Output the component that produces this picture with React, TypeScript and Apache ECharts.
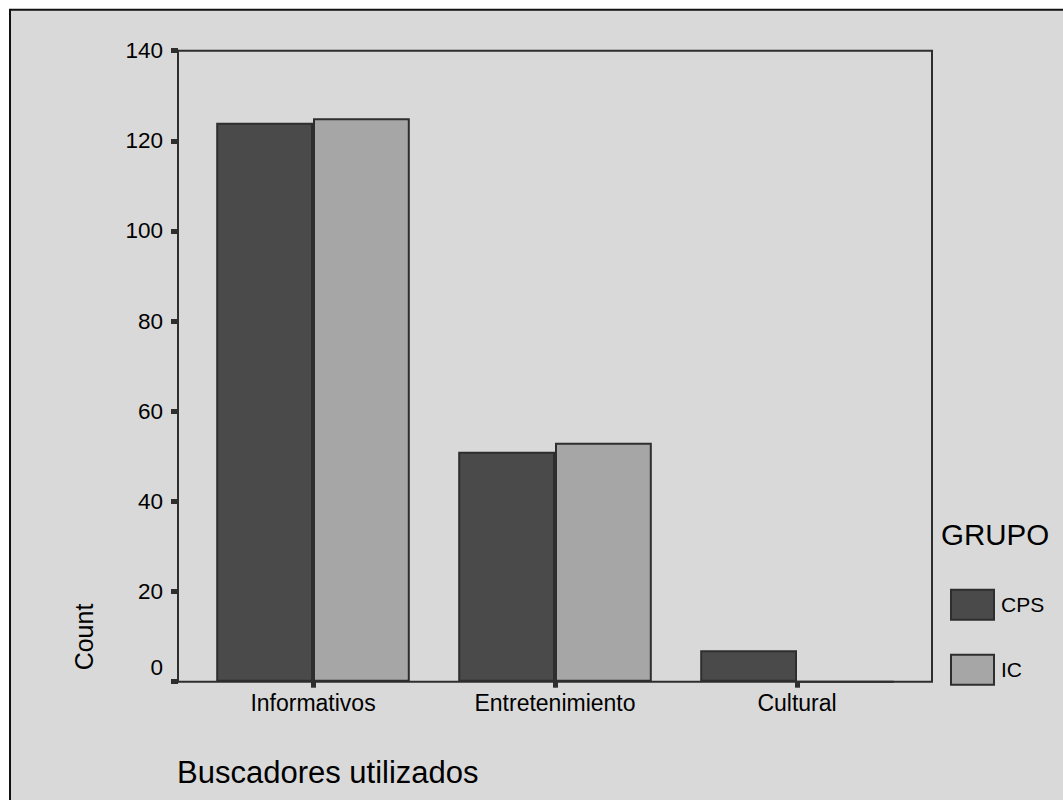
import React, { useEffect, useRef } from "react";
import * as echarts from "echarts";

const categories = ["Informativos", "Entretenimiento", "Cultural"];
const groupNames = ["CPS", "IC"];
const cpsValues = [124, 51, 7];
const icValues = [125, 53, 0];
const yMin = 0;
const yMax = 140;
const yInterval = 20;
const xTitle = "Buscadores utilizados";
const yTitle = "Count";
const legendTitle = "GRUPO";

const FONT = "'Liberation Sans', Arial, Helvetica, sans-serif";
const BG = "#d9d9d9";
const LINE = "#2e2e2e";
const CPS_COLOR = "#4a4a4a";
const IC_COLOR = "#a6a6a6";

export default function App() {
  const ref = useRef<HTMLDivElement>(null);

  useEffect(() => {
    if (!ref.current) return;
    const chart = echarts.init(ref.current, undefined, { renderer: "svg" });
    const plotTop = 50.7;
    const plotHeight = 631;
    chart.setOption({
      animation: false,
      backgroundColor: "#ffffff",
      textStyle: { fontFamily: FONT },
      graphic: [
        {
          type: "rect",
          z: -100,
          silent: true,
          shape: { x: 10, y: 9.7, width: 1070, height: 810 },
          style: { fill: BG, stroke: "#111", lineWidth: 2 },
        },
        {
          type: "text",
          x: 84,
          y: 637,
          rotation: Math.PI / 2,
          style: {
            text: yTitle,
            fontSize: 25,
            fontFamily: FONT,
            fill: "#000",
            align: "center",
            verticalAlign: "middle",
          },
        },
      ],
      title: [
        {
          text: xTitle,
          left: 177,
          top: 757,
          padding: 0,
          textStyle: { fontSize: 31, fontWeight: "normal", color: "#000", fontFamily: FONT },
        },
        {
          text: legendTitle,
          left: 941,
          top: 519,
          padding: 0,
          textStyle: { fontSize: 29.5, fontWeight: "normal", color: "#000", fontFamily: FONT },
        },
      ],
      legend: {
        data: groupNames,
        orient: "vertical",
        left: 950,
        top: 588.7,
        padding: 0,
        itemWidth: 43,
        itemHeight: 30,
        itemGap: 33,
        icon: "rect",
        textStyle: { fontSize: 21, color: "#000", fontFamily: FONT, padding: [0, 0, 0, 2] },
      },
      grid: [
        {
          left: 178,
          top: plotTop,
          width: 754,
          height: plotHeight,
          show: true,
          backgroundColor: "transparent",
          borderColor: LINE,
          borderWidth: 2,
        },
        {
          left: 192,
          top: plotTop,
          width: 726,
          height: plotHeight,
        },
      ],
      xAxis: [
        { type: "value", gridIndex: 0, show: false, min: 0, max: 1 },
        {
          type: "category",
          gridIndex: 1,
          data: categories,
          axisLine: { show: false },
          axisTick: {
            show: true,
            alignWithLabel: true,
            length: 6,
            lineStyle: { color: LINE, width: 5 },
          },
          axisLabel: { fontSize: 23, color: "#000", margin: 10, fontFamily: FONT },
          splitLine: { show: false },
        },
      ],
      yAxis: [
        {
          type: "value",
          gridIndex: 0,
          min: yMin,
          max: yMax,
          interval: yInterval,
          axisLine: { show: true, lineStyle: { color: LINE, width: 2 } },
          axisTick: { show: true, length: 7, lineStyle: { color: LINE, width: 5 } },
          splitLine: { show: false },
          axisLabel: {
            fontSize: 22.5,
            color: "#000",
            margin: 15,
            fontFamily: FONT,
            formatter: (v: number) => (v === 0 ? "{z|0}" : String(v)),
            rich: { z: { fontSize: 22.5, color: "#000", fontFamily: FONT, padding: [0, 0, 28, 0] } },
          },
        },
        { type: "value", gridIndex: 1, min: yMin, max: yMax, interval: yInterval, show: false },
      ],
      series: [
        {
          name: groupNames[0],
          type: "bar",
          xAxisIndex: 1,
          yAxisIndex: 1,
          data: cpsValues,
          barGap: "0%",
          barCategoryGap: "20%",
          itemStyle: { color: CPS_COLOR, borderColor: LINE, borderWidth: 2 },
        },
        {
          name: groupNames[1],
          type: "bar",
          xAxisIndex: 1,
          yAxisIndex: 1,
          data: icValues,
          barGap: "0%",
          barCategoryGap: "20%",
          itemStyle: { color: IC_COLOR, borderColor: LINE, borderWidth: 2 },
        },
      ],
    });
    return () => chart.dispose();
  }, []);

  return (
    <div
      ref={ref}
      style={{ position: "fixed", left: 0, top: 0, width: 1063, height: 800, background: "#fff" }}
    />
  );
}
